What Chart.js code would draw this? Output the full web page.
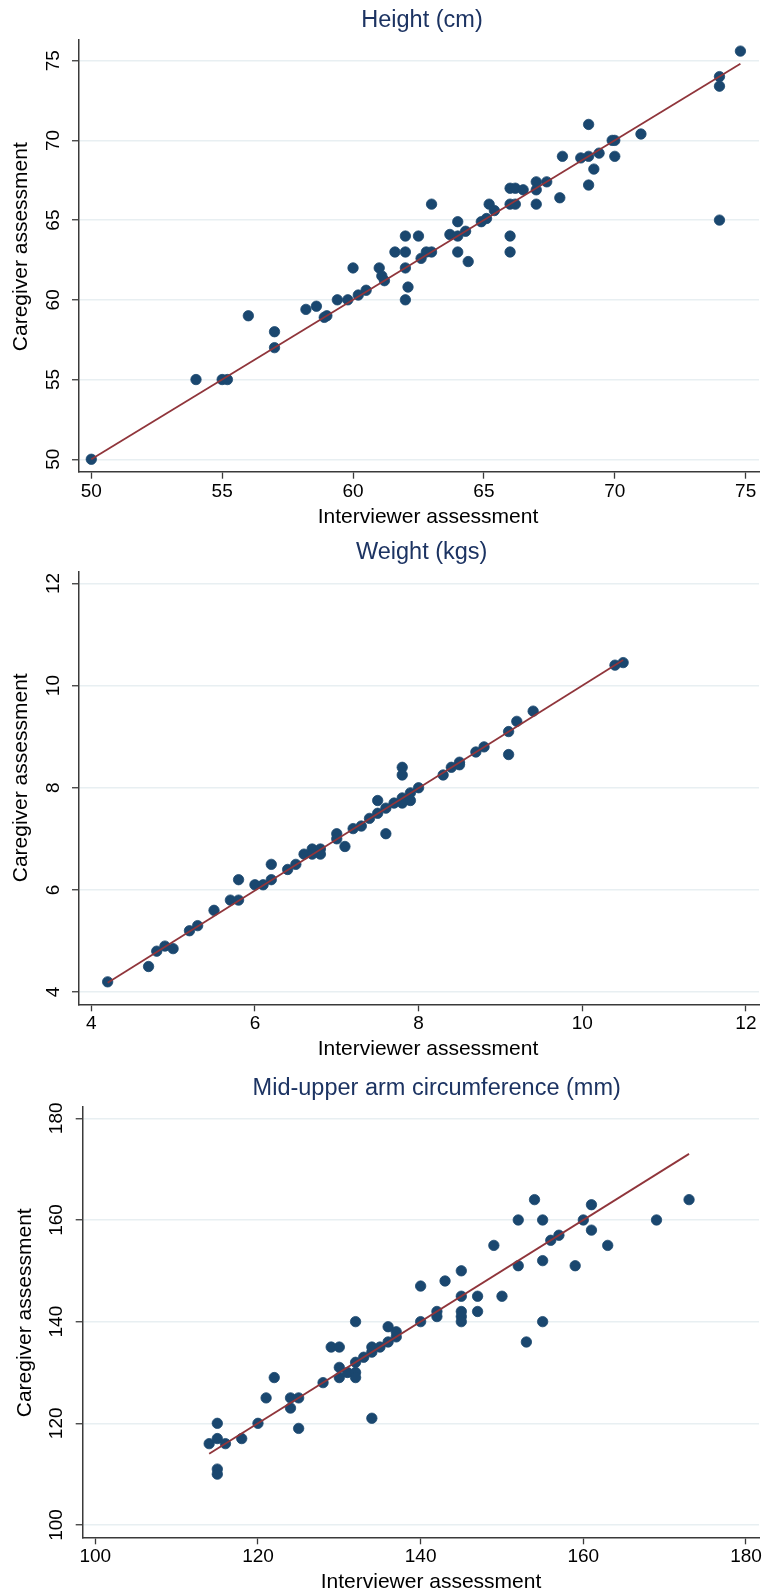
<!DOCTYPE html>
<html>
<head>
<meta charset="utf-8">
<title>Caregiver vs interviewer assessment</title>
<script src="https://cdn.jsdelivr.net/npm/chart.js@4.4.1/dist/chart.umd.min.js"></script>
<style>
  body { margin: 0; background: #fff; }
  canvas { position: absolute; left: 0; }
</style>
</head>
<body>
<canvas id="height-chart" width="765" height="530" style="top:0px"></canvas>
<canvas id="weight-chart" width="765" height="530" style="top:530px"></canvas>
<canvas id="muac-chart" width="765" height="534" style="top:1060px"></canvas>
<script>
// Height (cm)
const heightInterviewer = [50, 54, 55, 55.2, 56, 57, 57, 58.2, 58.6, 58.9, 59, 59.4, 59.8, 60, 60.2,
  60.5, 61, 61.1, 61.2, 62, 62.1, 62, 61.6, 62, 62, 62.5, 62.6, 62.8, 63, 63, 64.4, 63.7, 64, 64.3,
  64, 64, 64.9, 65.1, 65.2, 65.4, 66, 66.2, 66, 66.2, 66.5, 66, 66, 67, 67.4, 67, 67.9, 68, 68.7,
  69, 69, 69.2, 69, 69.4, 69.9, 70, 70, 71, 74, 74, 74, 74.8, 67];
const heightCaregiver = [50, 55, 55, 55, 59, 58, 57, 59.4, 59.6, 58.9, 59, 60, 60, 62, 60.3,
  60.6, 62, 61.5, 61.2, 62, 60.8, 60, 63, 63, 64, 64, 62.6, 63, 63, 66, 62.4, 64.1, 64, 64.3,
  63, 64.9, 64.9, 65.1, 66, 65.6, 66, 66, 67, 67, 66.9, 64, 63, 67.4, 67.4, 66, 66.4, 69, 68.9,
  69, 71, 68.2, 67.2, 69.2, 70, 70, 69, 70.4, 74, 73.4, 65, 75.6, 66.9];
const heightFitX = [50, 74.8];
const heightFitY = [50, 74.8];
const heightTicks = [50, 55, 60, 65, 70, 75];

// Weight (kgs)
const weightInterviewer = [4.2, 4.7, 4.8, 4.9, 5.0, 5.2, 5.3, 5.5, 5.7, 5.8, 5.8, 6.0, 6.1, 6.2, 6.2,
  6.4, 6.5, 6.6, 6.7, 6.7, 6.8, 6.8, 7.0, 7.0, 7.1, 7.2, 7.3, 7.4, 7.5, 7.5, 7.6, 7.6, 7.7, 7.8,
  7.8, 7.8, 7.8, 7.9, 7.9, 8.0, 8.3, 8.4, 8.5, 8.5, 8.7, 8.8, 9.1, 9.1, 9.2, 9.4, 10.4, 10.5];
const weightCaregiver = [4.2, 4.5, 4.8, 4.9, 4.85, 5.2, 5.3, 5.6, 5.8, 5.8, 6.2, 6.1, 6.1, 6.2, 6.5,
  6.4, 6.5, 6.7, 6.8, 6.7, 6.8, 6.7, 7.1, 7.0, 6.85, 7.2, 7.25, 7.4, 7.5, 7.75, 7.6, 7.1, 7.7, 7.8,
  7.7, 8.4, 8.25, 7.9, 7.75, 8.0, 8.25, 8.4, 8.5, 8.45, 8.7, 8.8, 9.1, 8.65, 9.3, 9.5, 10.4, 10.45];
const weightFitX = [4.2, 10.5];
const weightFitY = [4.18, 10.5];
const weightTicks = [4, 6, 8, 10, 12];

// Mid-upper arm circumference (mm)
const muacInterviewer = [114, 115, 115, 115, 115, 116, 118, 120, 121, 122, 124, 124, 125, 125, 128,
  129, 130, 130, 130, 131, 132, 132, 132, 132, 133, 134, 134, 134, 135, 136, 136, 137, 137, 140,
  140, 142, 142, 143, 145, 145, 145, 145, 145, 147, 147, 149, 150, 152, 152, 153, 154, 155, 155,
  155, 156, 157, 159, 160, 161, 161, 163, 169, 173];
const muacCaregiver = [116, 120, 117, 111, 110, 116, 117, 120, 125, 129, 125, 123, 125, 119, 128,
  135, 135, 131, 129, 130, 132, 130, 129, 140, 133, 134, 135, 121, 135, 136, 139, 137, 138, 147,
  140, 142, 141, 148, 150, 145, 142, 141, 140, 145, 142, 155, 145, 160, 151, 136, 164, 160, 152,
  140, 156, 157, 151, 160, 163, 158, 155, 160, 164];
const muacFitX = [114, 173];
const muacFitY = [114, 173];
const muacTicks = [100, 120, 140, 160, 180];

const FONT = '"Liberation Sans", Arial, Helvetica, sans-serif';
Chart.defaults.font.family = FONT;
Chart.defaults.color = '#000';

const dotColor = '#1a476f';
const lineColor = '#90353b';
const axisColor = '#3a3a3a';
const gridColor = '#e8eff2';

// titles drawn at fixed spots (Stata does not centre them exactly on the plot)
const panelText = {
  id: 'panelText',
  afterDraw(chart, args, o) {
    const ctx = chart.ctx;
    ctx.save();
    ctx.textAlign = 'center';
    ctx.textBaseline = 'middle';
    ctx.fillStyle = '#1c3362';
    ctx.font = '23.5px ' + FONT;
    ctx.fillText(o.title, o.titleX, o.titleY);
    ctx.fillStyle = '#000';
    ctx.font = '21px ' + FONT;
    ctx.fillText(o.xTitle, o.xTitleX, o.xTitleY);
    ctx.translate(o.yTitleX, o.yTitleY);
    ctx.rotate(-Math.PI / 2);
    ctx.fillText(o.yTitle, 0, 0);
    ctx.restore();
  }
};

function toPoints(xs, ys) {
  return xs.map((x, i) => ({ x: x, y: ys[i] }));
}

function makeChart(id, xs, ys, fitX, fitY, ticks, range, box, text) {
  return new Chart(document.getElementById(id), {
    type: 'scatter',
    data: {
      datasets: [
        {
          data: toPoints(fitX, fitY),
          showLine: true,
          borderColor: lineColor,
          borderWidth: 1.8,
          pointRadius: 0,
          order: 0
        },
        {
          data: toPoints(xs, ys),
          backgroundColor: dotColor,
          borderColor: dotColor,
          pointRadius: 5.2,
          pointBorderWidth: 0.8,
          order: 1
        }
      ]
    },
    options: {
      responsive: false,
      animation: false,
      events: [],
      layout: { padding: { top: box.top, right: 765 - box.right, left: 0, bottom: 0 } },
      plugins: {
        legend: { display: false },
        tooltip: { enabled: false },
        title: { display: false },
        panelText: text
      },
      scales: {
        x: {
          type: 'linear',
          min: range.xMin,
          max: range.xMax,
          afterBuildTicks: s => { s.ticks = ticks.map(v => ({ value: v })); },
          afterFit: s => { s.height = box.h - box.bottom; },
          grid: { drawOnChartArea: false, tickLength: 7, tickColor: axisColor, tickWidth: 1.3, color: axisColor },
          border: { color: axisColor, width: 1.5 },
          ticks: { font: { size: 19 }, color: '#000', padding: 1.5, autoSkip: false, maxRotation: 0 }
        },
        y: {
          type: 'linear',
          min: range.yMin,
          max: range.yMax,
          afterBuildTicks: s => { s.ticks = ticks.map(v => ({ value: v })); },
          afterFit: s => { s.width = box.left; },
          grid: { color: gridColor, lineWidth: 1.5, tickLength: 7, tickColor: axisColor, tickWidth: 1.3 },
          border: { color: axisColor, width: 1.5 },
          ticks: {
            font: { size: 19 }, color: '#000', padding: box.yTickPad, autoSkip: false,
            minRotation: 90, maxRotation: 90, crossAlign: 'center'
          }
        }
      }
    },
    plugins: [panelText]
  });
}

makeChart('height-chart', heightInterviewer, heightCaregiver, heightFitX, heightFitY, heightTicks,
  { xMin: 49.53, xMax: 75.51, yMin: 49.22, yMax: 76.34 },
  { h: 530, top: 39.3, bottom: 471.7, left: 79, right: 760, yTickPad: 8.1 },
  { title: 'Height (cm)', titleX: 422, titleY: 21,
    xTitle: 'Interviewer assessment', xTitleX: 428, xTitleY: 517.5,
    yTitle: 'Caregiver assessment', yTitleX: 21.5, yTitleY: 246.7 });

makeChart('weight-chart', weightInterviewer, weightCaregiver, weightFitX, weightFitY, weightTicks,
  { xMin: 3.85, xMax: 12.16, yMin: 3.76, yMax: 12.23 },
  { h: 530, top: 41.7, bottom: 474.3, left: 79, right: 760, yTickPad: 7.6 },
  { title: 'Weight (kgs)', titleX: 421.7, titleY: 22.5,
    xTitle: 'Interviewer assessment', xTitleX: 428, xTitleY: 519,
    yTitle: 'Caregiver assessment', yTitleX: 21.5, yTitleY: 247.8 });

makeChart('muac-chart', muacInterviewer, muacCaregiver, muacFitX, muacFitY, muacTicks,
  { xMin: 98.45, xMax: 181.6, yMin: 97.58, yMax: 182.28 },
  { h: 534, top: 46.7, bottom: 477.3, left: 82.7, right: 760, yTickPad: 3.2 },
  { title: 'Mid-upper arm circumference (mm)', titleX: 436.7, titleY: 28.3,
    xTitle: 'Interviewer assessment', xTitleX: 431, xTitleY: 522.5,
    yTitle: 'Caregiver assessment', yTitleX: 25.5, yTitleY: 252.8 });
</script>
</body>
</html>
